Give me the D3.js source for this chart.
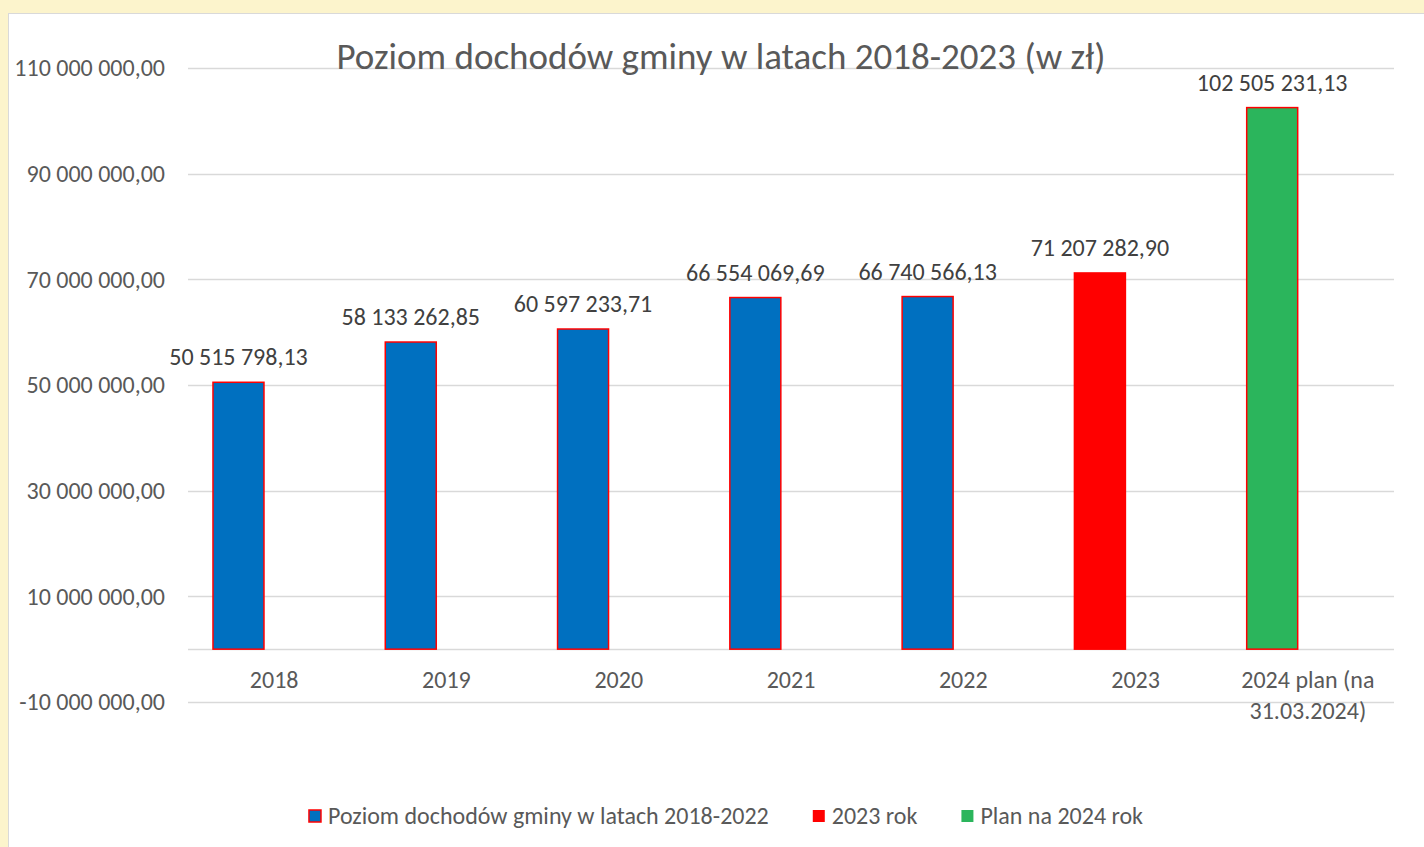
<!DOCTYPE html>
<html>
<head>
<meta charset="utf-8">
<script src="https://cdn.jsdelivr.net/npm/d3@7"></script>
<style>
  html, body { margin: 0; padding: 0; background: #FCF4CC; }
  svg { display: block; }
  text { font-family: Carlito, Lato, "Open Sans", sans-serif; }
</style>
</head>
<body>
<svg id="chart" width="1424" height="847"></svg>
<script>
const categories = ["2018", "2019", "2020", "2021", "2022", "2023", "2024 plan (na 31.03.2024)"];
const values = [50515798.13, 58133262.85, 60597233.71, 66554069.69, 66740566.13, 71207282.90, 102505231.13];
const seriesOf = ["hist", "hist", "hist", "hist", "hist", "y2023", "plan"];
const seriesKeys = ["hist", "y2023", "plan"];
const seriesNames = ["Poziom dochodów gminy w latach 2018-2022", "2023 rok", "Plan na 2024 rok"];
const seriesColors = ["#0070C0", "#FF0000", "#2BB55C"];
const yTicks = [-10000000, 10000000, 30000000, 50000000, 70000000, 90000000, 110000000];
const title = "Poziom dochodów gminy w latach 2018-2023 (w zł)";

const FONT = "Carlito, Lato, 'Open Sans', sans-serif";
const svg = d3.select("#chart");
const W = 1424, H = 847;

// white chart area
svg.append("rect").attr("x", 8.5).attr("y", 13.5).attr("width", W).attr("height", H)
  .attr("fill", "#FFFFFF").attr("stroke", "#D9D9D9").attr("stroke-width", 1);

const plot = { left: 188, right: 1394, top: 68, bottom: 702 };

const y = d3.scaleLinear().domain([-10000000, 110000000]).range([plot.bottom, plot.top]);
const x = d3.scaleBand().domain(categories).range([plot.left, plot.right]).paddingInner(0).paddingOuter(0);
const color = d3.scaleOrdinal().domain(seriesKeys).range(seriesColors);

const locale = d3.formatLocale({ decimal: ",", thousands: "\u00a0", grouping: [3], currency: ["", " zł"], minus: "-" });
const fmt = locale.format(",.2f");

// gridlines
const grid = svg.append("g");
grid.selectAll("line").data(yTicks.concat([0])).join("line")
  .attr("x1", plot.left).attr("x2", plot.right)
  .attr("y1", d => Math.round(y(d)) + 0.5).attr("y2", d => Math.round(y(d)) + 0.5)
  .attr("stroke", "#D9D9D9").attr("stroke-width", 1.5);

// y axis labels
const yAxis = d3.axisLeft(y).tickValues(yTicks).tickFormat(fmt).tickSize(0).tickPadding(0);
const gy = svg.append("g").attr("transform", `translate(${165},0)`).call(yAxis);
gy.select(".domain").remove();
gy.selectAll("text").attr("fill", "#595959").style("font-size", "24px").style("font-family", FONT);

// title
svg.append("text").attr("x", 721).attr("y", 69).attr("text-anchor", "middle")
  .attr("fill", "#595959").style("font-size", "37px").text(title);

// bars
const barOffset = 0.145, barWidth = 0.296;
const data = categories.map((c, i) => ({ c, v: values[i], s: seriesOf[i] }));
svg.append("g").selectAll("rect").data(data).join("rect")
  .attr("x", d => x(d.c) + x.bandwidth() * barOffset)
  .attr("width", x.bandwidth() * barWidth)
  .attr("y", d => y(d.v))
  .attr("height", d => y(0) - y(d.v))
  .attr("fill", d => color(d.s))
  .attr("stroke", "#FF0000").attr("stroke-width", 1.5);

// data labels
svg.append("g").selectAll("text").data(data).join("text")
  .attr("x", d => x(d.c) + x.bandwidth() * (barOffset + barWidth / 2))
  .attr("y", d => y(d.v) - 17)
  .attr("text-anchor", "middle").attr("fill", "#404040").style("font-size", "24px")
  .text(d => fmt(d.v));

// x axis labels
const xAxis = d3.axisBottom(x).tickSize(0).tickPadding(0);
const gx = svg.append("g").attr("transform", `translate(0,${y(0)})`).call(xAxis);
gx.select(".domain").remove();
gx.selectAll("text").attr("fill", "#595959").style("font-size", "24px").style("font-family", FONT)
  .attr("dy", null).attr("y", 39)
  .each(function (d) {
    const t = d3.select(this);
    const words = d.split(" ");
    t.text(null);
    let line = [], lines = [];
    const tsp = t.append("tspan").attr("x", 0);
    for (const w of words) {
      line.push(w);
      tsp.text(line.join(" "));
      if (tsp.node().getComputedTextLength() > 160 && line.length > 1) {
        line.pop();
        lines.push(line.join(" "));
        line = [w];
      }
    }
    lines.push(line.join(" "));
    t.text(null);
    lines.forEach((l, i) => t.append("tspan").attr("x", 0).attr("dy", i === 0 ? 0 : 31).text(l));
  });

// legend
const legend = svg.append("g");
const items = legend.selectAll("g").data(seriesKeys).join("g");
items.append("rect").attr("width", 12).attr("height", 12).attr("y", -14)
  .attr("fill", d => color(d))
  .attr("stroke", (d, i) => i === 0 ? "#FF0000" : "none").attr("stroke-width", 1.5);
items.append("text").attr("x", 19).attr("y", 0).attr("fill", "#595959").style("font-size", "24px")
  .text((d, i) => seriesNames[i]);
let cx = 0; const positions = [];
items.each(function () {
  const w = 19 + d3.select(this).select("text").node().getComputedTextLength();
  positions.push(cx); cx += w + 44;
});
const total = cx - 44;
const startX = 726 - total / 2;
items.attr("transform", (d, i) => `translate(${startX + positions[i]},${824})`);
</script>
</body>
</html>
